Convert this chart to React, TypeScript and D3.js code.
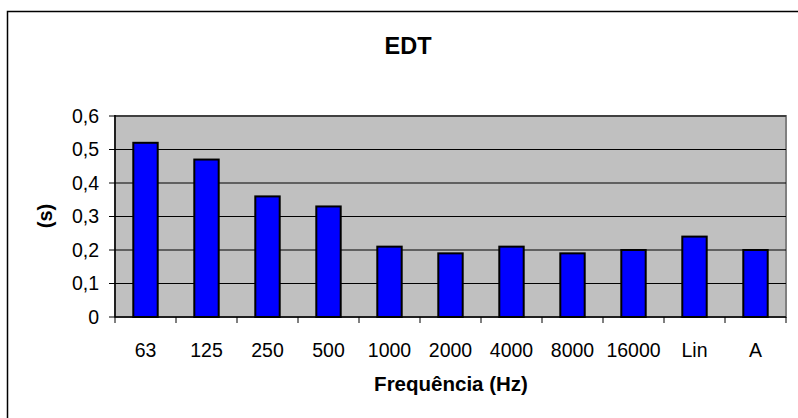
import React from "react";
import * as d3 from "d3";

const categories = ["63", "125", "250", "500", "1000", "2000", "4000", "8000", "16000", "Lin", "A"];
const values = [0.52, 0.47, 0.36, 0.33, 0.21, 0.19, 0.21, 0.19, 0.2, 0.24, 0.2];
const yTicks = [0, 0.1, 0.2, 0.3, 0.4, 0.5, 0.6];
const title = "EDT";
const xTitle = "Frequência (Hz)";
const yTitle = "(s)";

const W = 798;
const H = 418;
const plot = { left: 115, right: 786, top: 116, bottom: 317 };
const font = "'Liberation Sans', Arial, sans-serif";

export default function App() {
  const x = d3.scaleBand<string>().domain(categories).range([plot.left, plot.right]).paddingInner(0.6).paddingOuter(0.3);
  const xc = d3.scaleBand<string>().domain(categories).range([plot.left, plot.right]);
  const y = d3.scaleLinear().domain([0, 0.6]).range([plot.bottom, plot.top]);
  const fmt = (v: number) => (v === 0 ? "0" : d3.format(".1f")(v).replace(".", ","));
  const step = xc.step();
  const bw = x.bandwidth();
  return (
    <svg width={W} height={H} style={{ position: "absolute", left: 0, top: 0, background: "#fff" }} fontFamily={font}>
      <rect x={7.5} y={11.5} width={W} height={H} fill="#fff" stroke="#000" strokeWidth={1.5} />
      <text x={408} y={54} textAnchor="middle" fontSize={23.5} fontWeight="bold">{title}</text>
      <rect x={plot.left} y={plot.top} width={plot.right - plot.left} height={plot.bottom - plot.top} fill="#C0C0C0" stroke="#808080" strokeWidth={2} />
      {yTicks.map((t) => (
        <g key={t}>
          {t > 0 && <line x1={plot.left} x2={plot.right} y1={y(t)} y2={y(t)} stroke="#000" strokeWidth={1} />}
          <line x1={plot.left - 6} x2={plot.left} y1={y(t)} y2={y(t)} stroke="#000" strokeWidth={1} />
          <text x={plot.left - 16} y={y(t)} dy="0.35em" textAnchor="end" fontSize={19.5}>{fmt(t)}</text>
        </g>
      ))}
      {categories.map((c, i) => (
        <rect key={c} x={(xc(c) as number) + (step - bw) / 2} y={y(values[i])} width={bw} height={plot.bottom - y(values[i])} fill="#0000FF" stroke="#000" strokeWidth={2} />
      ))}
      <line x1={plot.left} x2={plot.left} y1={plot.top - 1} y2={plot.bottom} stroke="#000" strokeWidth={1.5} />
      <line x1={plot.left} x2={plot.right} y1={plot.bottom} y2={plot.bottom} stroke="#000" strokeWidth={1.5} />
      {d3.range(categories.length + 1).map((i) => (
        <line key={i} x1={plot.left + i * step} x2={plot.left + i * step} y1={plot.bottom} y2={plot.bottom + 6} stroke="#000" strokeWidth={1} />
      ))}
      {categories.map((c) => (
        <text key={c} x={(xc(c) as number) + step / 2} y={350} dy="0.35em" textAnchor="middle" fontSize={19.5}>{c}</text>
      ))}
      <text x={451} y={391} textAnchor="middle" fontSize={20.5} fontWeight="bold">{xTitle}</text>
      <text transform={`translate(52,216) rotate(-90)`} textAnchor="middle" fontSize={20} fontWeight="bold">{yTitle}</text>
    </svg>
  );
}
